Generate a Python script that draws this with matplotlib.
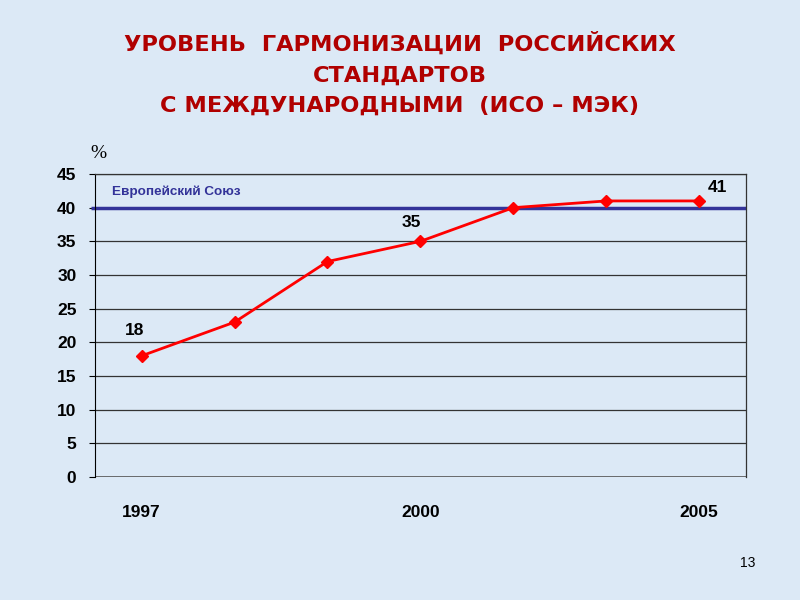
import numpy as np
import matplotlib.pyplot as plt

plt.rcParams['font.family'] = ['Liberation Sans', 'DejaVu Sans']

# data
years = ['1997', '', '', '2000', '', '', '2005']
values = [18, 23, 32, 35, 40, 41, 41]
labeled = [0, 3, 6]
eu_level = 40

bg = '#dce9f6'
fig = plt.figure(figsize=(8, 6), dpi=100, facecolor=bg)
ax = fig.add_axes([0.119, 0.205, 0.813, 0.505])
ax.set_facecolor(bg)

x = np.arange(len(values))

# grid
for y in range(5, 50, 5):
    ax.axhline(y, color='#333333', lw=0.9, zorder=1)
ax.axhline(0, color='#555555', lw=1.2, zorder=1)

# EU reference line
ax.plot([-0.55, 6.5], [eu_level, eu_level], color='#333399', lw=2.5,
        zorder=2, clip_on=False, solid_capstyle='butt')
ax.text(-0.32, 42.4, 'Европейский Союз', color='#333399', fontsize=9.7,
        fontweight='bold', va='center', ha='left')

# series
ax.plot(x, values, color='#ff0000', lw=2, marker='D', markersize=6,
        zorder=3)
offsets = {0: (-0.08, 3.7), 3: (-0.1, 2.8), 6: (0.2, 2.0)}
for i in labeled:
    dx, dy = offsets[i]
    ax.text(x[i] + dx, values[i] + dy, str(values[i]), fontsize=12.5,
            fontweight='bold', ha='center', va='center')

ax.set_xlim(-0.5, 6.5)
ax.set_ylim(0, 45)
ax.set_yticks(range(0, 50, 5))
ax.set_xticks(x)
ax.set_xticklabels(years)
ax.tick_params(axis='x', length=0, pad=20, labelsize=12.5)
ax.tick_params(axis='y', length=4.5, labelsize=12.5, pad=9)
for lab in ax.get_xticklabels() + ax.get_yticklabels():
    lab.set_fontweight('bold')

for s in ['top', 'right']:
    ax.spines[s].set_color('#333333')
    ax.spines[s].set_linewidth(0.9)
ax.spines['bottom'].set_visible(False)
ax.spines['left'].set_color('black')

ax.text(-0.55, 48, '%', fontsize=14, family='Liberation Serif',
        ha='left', va='center')

fig.text(0.5, 0.947, 'УРОВЕНЬ  ГАРМОНИЗАЦИИ  РОССИЙСКИХ\nСТАНДАРТОВ\n'
         'С МЕЖДУНАРОДНЫМИ  (ИСО – МЭК)', color='#b00000', fontsize=16.2,
         fontweight='bold', family='DejaVu Sans', ha='center', va='top',
         linespacing=1.63)

fig.text(0.925, 0.062, '13', fontsize=10, ha='left', va='center')

fig.savefig('out.png', dpi=100, facecolor=bg)
